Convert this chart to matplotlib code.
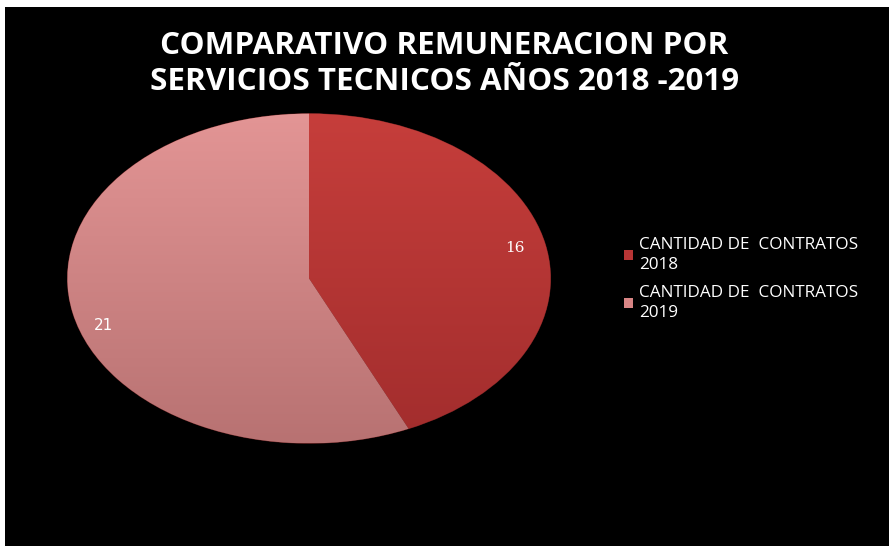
import numpy as np
import matplotlib
matplotlib.use('Agg')
import matplotlib.pyplot as plt
from matplotlib.patches import Rectangle, Patch
from matplotlib.colors import LinearSegmentedColormap

title = 'COMPARATIVO REMUNERACION POR\nSERVICIOS TECNICOS AÑOS 2018 -2019'
labels = ['CANTIDAD DE  CONTRATOS\n2018', 'CANTIDAD DE  CONTRATOS\n2019']
values = [16, 21]
colors = ['#B83535', '#D88585']
# top / bottom shades for the gradient look
shades = [('#C63E3B', '#A22D2D'), ('#E39595', '#B87272')]

W, H = 889, 546
fig = plt.figure(figsize=(W / 100, H / 100), dpi=100)
fig.patch.set_facecolor('white')
# black slide area (small white margin on left and top)
fig.add_artist(Rectangle((5 / W, 0), 1 - 5 / W, 1 - 7 / H, transform=fig.transFigure,
                         facecolor='black', edgecolor='none', zorder=0))

fig.text(0.5, 1 - 64 / H, title, ha='center', va='center', color='white',
         fontsize=22.6, fontweight='bold', family='Open Sans', linespacing=1.25)

# pie is drawn as an ellipse: axes box spans the ellipse
x0, x1, y0, y1 = 65, 553, 112, 445
ax = fig.add_axes([x0 / W, 1 - y1 / H, (x1 - x0) / W, (y1 - y0) / H])
ax.set_facecolor('none')
total = sum(values)
wedges, texts, autotexts = ax.pie(values, colors=colors, startangle=90, counterclock=False,
                                  radius=1, pctdistance=0.87,
                                  autopct=lambda p: '%d' % round(p * total / 100),
                                  wedgeprops=dict(edgecolor='#5a1c1c', linewidth=0.6),
                                  textprops=dict(color='white', fontsize=11))

# vertical gradient fill clipped to each wedge
grad = np.linspace(0, 1, 256).reshape(-1, 1)
for w, (top, bot) in zip(wedges, shades):
    cmap = LinearSegmentedColormap.from_list('g', [top, bot])
    im = ax.imshow(grad, extent=(-1, 1, -1, 1), origin='upper', cmap=cmap,
                   aspect='auto', zorder=1.5)
    im.set_clip_path(w)
ax.set_aspect('auto')
ax.set_xlim(-1.01, 1.01)
ax.set_ylim(-1.01, 1.01)
ax.axis('off')
autotexts[0].set_family('DejaVu Serif')
autotexts[1].set_family('DejaVu Sans')
autotexts[1].set_position((autotexts[1].get_position()[0], autotexts[1].get_position()[1] - 0.1))
for t in autotexts:
    t.set_zorder(3)

handles = [Patch(facecolor=c, edgecolor='none') for c in colors]
leg = fig.legend(handles, labels, loc='upper left', bbox_to_anchor=(624 / W, 1 - 237 / H),
                 frameon=False, labelcolor='white', prop=dict(family='Open Sans', size=12.3),
                 handlelength=0.5, handleheight=0.5, handletextpad=0.4, labelspacing=0.75,
                 borderpad=0, borderaxespad=0)
for t in leg.get_texts():
    t.set_linespacing(1.3)

fig.savefig('out.png', dpi=100, facecolor=fig.get_facecolor())
